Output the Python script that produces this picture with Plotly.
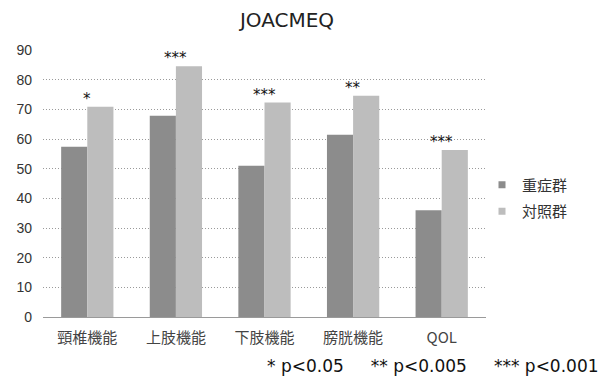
import plotly.graph_objects as go

categories = ["頸椎機能", "上肢機能", "下肢機能", "膀胱機能", "QOL"]
severe = [57.4, 67.8, 51.0, 61.4, 36.0]
control = [70.9, 84.5, 72.3, 74.6, 56.3]
significance = ["*", "***", "***", "**", "***"]
series_names = ["重症群", "対照群"]
series_colors = ["#8c8c8c", "#bdbdbd"]
y_ticks = [0, 10, 20, 30, 40, 50, 60, 70, 80, 90]

L, R, T, B = 43, 124, 50, 63
W, H = 610, 380
pw, ph = W - L - R, H - T - B

fig = go.Figure()
for name, vals, col in zip(series_names, [severe, control], series_colors):
    fig.add_trace(go.Bar(x=categories, y=vals, name=name, showlegend=False,
                         marker=dict(color=col, line=dict(width=0))))
# legend entries with small square swatches
for i, (name, col) in enumerate(zip(series_names, series_colors)):
    fig.add_trace(go.Scatter(x=[None], y=[None], mode="markers", name=name,
                             legendgroup=str(i),
                             marker=dict(symbol="square", size=7, color=col)))

for c, v, s in zip(categories, control, significance):
    fig.add_annotation(x=c, y=v, text=s, showarrow=False, yanchor="bottom",
                       yshift=-3, font=dict(size=15, color="#111",
                                            family="DejaVu Sans"))

fig.add_annotation(xref="paper", yref="paper", x=(601 - L) / pw, y=(317 - 366) / ph,
                   xanchor="right", yanchor="middle", showarrow=False,
                   text="* p<0.05&nbsp;&nbsp;&nbsp;&nbsp;&nbsp;** p<0.005&nbsp;&nbsp;&nbsp;&nbsp;&nbsp;*** p<0.001",
                   font=dict(size=17, color="#111", family="DejaVu Sans"))

fig.update_layout(
    width=W, height=H,
    margin=dict(l=L, r=R, t=T, b=B),
    paper_bgcolor="white", plot_bgcolor="white",
    title=dict(text="JOACMEQ", x=287 / W, xanchor="center", y=1 - 20 / H,
               yanchor="middle", font=dict(size=20, color="#222", family="DejaVu Sans")),
    barmode="group", bargap=0.41, bargroupgap=0,
    showlegend=True,
    legend=dict(x=(482 - L) / pw, y=(317 - 198) / ph, xanchor="left", yanchor="middle",
                font=dict(size=15, color="#333", family="Noto Sans CJK JP"),
                itemwidth=30, tracegroupgap=4, bgcolor="rgba(0,0,0,0)",
                traceorder="grouped"),
    xaxis=dict(showgrid=False, showline=False, ticks="", ticklabelstandoff=10,
               tickfont=dict(size=15, color="#444", family="Noto Sans CJK JP")),
    yaxis=dict(range=[0, 90], tickvals=y_ticks, showgrid=True,
               gridcolor="#9a9a9a", griddash="1px,2px", gridwidth=1,
               zeroline=True, zerolinecolor="#9a9a9a", zerolinewidth=1,
               showline=False, ticks="", ticklabelstandoff=10,
               tickfont=dict(size=14, color="#333", family="Liberation Sans")),
)
fig.write_html("out.html")
